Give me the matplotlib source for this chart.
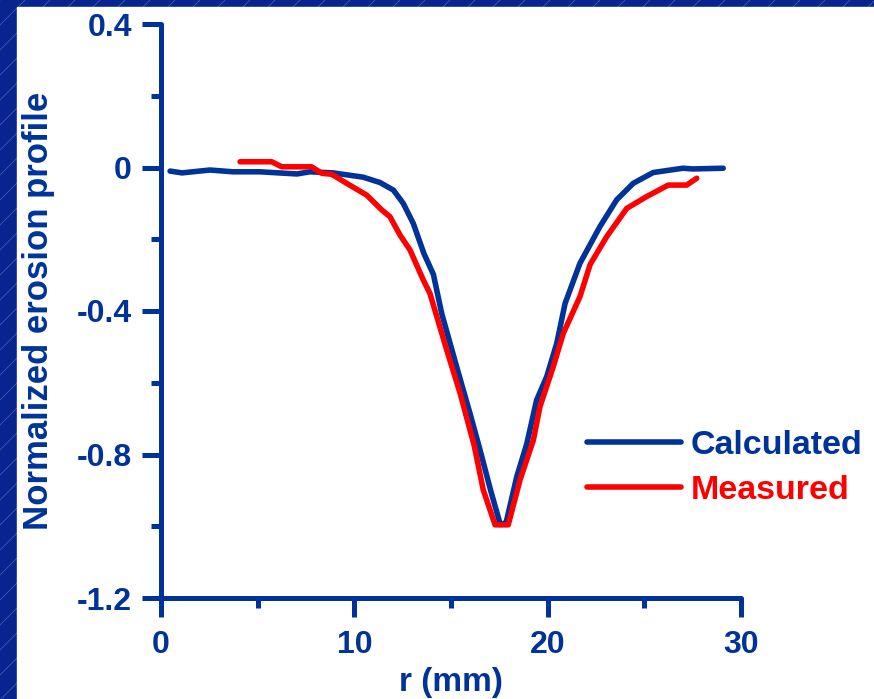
import numpy as np
import matplotlib
matplotlib.use("Agg")
import matplotlib.pyplot as plt
from matplotlib.patches import Rectangle

# erosion depth across the target radius, normalised to the deepest point
r_calc = [0.47, 1.09, 2.53, 3.72, 5.12, 7.03, 7.7, 8.9, 10.46, 11.33, 12.02,
          12.53, 13.05, 13.6, 14.09, 14.52, 15.29, 15.98, 16.5, 17.05, 17.55,
          17.85, 18.4, 18.92, 19.43, 19.95, 20.47, 20.9, 21.67, 22.7, 23.57,
          24.43, 25.46, 27.0, 27.5, 29.08]
v_calc = [-0.01, -0.015, -0.007, -0.012, -0.012, -0.018, -0.012, -0.015,
          -0.027, -0.042, -0.063, -0.10, -0.156, -0.24, -0.298, -0.407,
          -0.555, -0.685, -0.787, -0.90, -0.995, -0.99, -0.862, -0.77, -0.648,
          -0.583, -0.49, -0.379, -0.267, -0.165, -0.09, -0.044, -0.014,
          -0.002, -0.004, -0.002]

r_meas = [4.09, 5.73, 6.24, 7.79, 8.31, 8.83, 9.6, 10.64, 10.98, 11.41,
          11.84, 12.36, 12.88, 13.57, 13.91, 14.78, 15.47, 16.2, 16.67, 17.28,
          17.96, 18.57, 19.26, 19.6, 20.29, 20.81, 21.67, 22.2, 23.05, 24.09,
          25.12, 26.24, 27.19, 27.71]
v_meas = [0.016, 0.016, 0.002, 0.002, -0.016, -0.019, -0.044, -0.077, -0.095,
          -0.118, -0.137, -0.188, -0.23, -0.314, -0.351, -0.509, -0.629,
          -0.775, -0.899, -0.996, -0.996, -0.871, -0.76, -0.667, -0.555,
          -0.462, -0.36, -0.27, -0.193, -0.114, -0.081, -0.049, -0.049, -0.03]

x_major = [0, 10, 20, 30]
x_minor = [5, 15, 25]
y_major = [0.4, 0, -0.4, -0.8, -1.2]
y_major_lbl = ["0.4", "0", "-0.4", "-0.8", "-1.2"]
y_minor = [0.2, -0.2, -0.6, -1.0]

NAVY = "#003399"
RED = "#ff0000"
W, H = 874, 699

plt.rcParams["font.family"] = ["Liberation Sans", "DejaVu Sans"]
plt.rcParams["font.weight"] = "bold"

fig = plt.figure(figsize=(W / 100, H / 100), dpi=100)

# slide backdrop: dark blue with faint diagonal hatching, white panel on top
bg = fig.add_axes([0, 0, 1, 1])
bg.set_xlim(0, W)
bg.set_ylim(H, 0)
bg.axis("off")
bg.add_patch(Rectangle((0, 0), W, H, color="#08248f", zorder=0))
for s in np.arange(-H, W + H, 25):
    bg.plot([s, s + H], [H, 0], color="#7d8fd0", lw=0.5, alpha=0.6, zorder=1)
bg.add_patch(Rectangle((17, 7), W - 17, H - 7, color="white", zorder=2))

ax = fig.add_axes([161 / W, 1 - 598 / H, 580 / W, 574 / H])
ax.patch.set_alpha(0)

ax.plot(r_calc, v_calc, color=NAVY, lw=4, label="Calculated",
        solid_capstyle="round", solid_joinstyle="round", zorder=3)
ax.plot(r_meas, v_meas, color=RED, lw=4, label="Measured",
        solid_capstyle="round", solid_joinstyle="round", zorder=4)

ax.set_xlim(0, 30)
ax.set_ylim(-1.2, 0.4)
for side in ("top", "right"):
    ax.spines[side].set_visible(False)
for side in ("left", "bottom"):
    ax.spines[side].set_color(NAVY)
    ax.spines[side].set_linewidth(3.6)
    ax.spines[side].set_capstyle("round")

ax.set_xticks(x_major)
ax.set_xticklabels([str(v) for v in x_major])
ax.set_xticks(x_minor, minor=True)
ax.set_yticks(y_major)
ax.set_yticklabels(y_major_lbl)
ax.set_yticks(y_minor, minor=True)

ax.tick_params(which="major", length=14, width=3.6, color=NAVY,
               labelcolor=NAVY, labelsize=23)
ax.tick_params(which="minor", length=7, width=3.6, color=NAVY)
ax.tick_params(axis="x", which="major", pad=9)
ax.tick_params(axis="y", which="major", pad=7)
for lbl in ax.get_xticklabels() + ax.get_yticklabels():
    lbl.set_fontweight("bold")

ax.set_xlabel("r (mm)", fontsize=24, fontweight="bold", color=NAVY)
ax.set_ylabel("Normalized erosion profile", fontsize=25, fontweight="bold",
              color=NAVY)
ax.xaxis.set_label_coords(0.5, -0.12)
ax.yaxis.set_label_coords(-0.183, 0.5)

leg = ax.legend(loc="center left", bbox_to_anchor=(587 / W, 1 - 468 / H),
                bbox_transform=fig.transFigure, frameon=False,
                fontsize=24.5, handlelength=2.75, handletextpad=0.3,
                labelspacing=0.4, borderpad=0, borderaxespad=0,
                labelcolor="linecolor")
for t in leg.get_texts():
    t.set_fontweight("bold")

fig.savefig("out.png", dpi=100)
